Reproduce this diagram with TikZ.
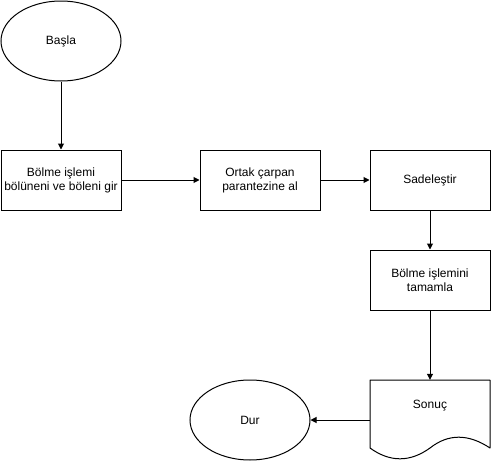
\documentclass[tikz,border=0pt]{standalone}
\usepackage{fontspec}
\setmainfont{Liberation Sans}
\usetikzlibrary{shapes.geometric,arrows.meta}
\begin{document}
\begin{tikzpicture}[x=1pt,y=-1pt,
  base/.style={draw=black,line width=1pt,font=\fontsize{12}{14}\selectfont,align=center,inner sep=0pt},
  procbox/.style={base,rectangle,minimum width=120pt,minimum height=60pt},
  term/.style={base,ellipse,minimum width=120pt,minimum height=80pt},
  conn/.style={draw=black,line width=1pt,-{Triangle[length=6pt,width=6pt]}},
  plaintext/.style={font=\fontsize{12}{14}\selectfont,align=center,inner sep=0pt}]
\useasboundingbox (0,0) rectangle (491,461);
\node[term] (basla) at (61,41) {Başla};
\node[procbox] (b1) at (61,180) {Bölme işlemi\\bölüneni ve böleni gir};
\node[procbox] (b2) at (260,180) {Ortak çarpan\\parantezine al};
\node[procbox] (b3) at (430,180) {Sadeleştir};
\node[procbox] (b4) at (430,280) {Bölme işlemini\\tamamla};
\node[inner sep=0pt,minimum width=120pt,minimum height=80pt] (sonuc) at (430,420) {};
\draw[line width=1pt,line join=round] (370,380) -- (490,380) -- (490,448)
  .. controls (468.3,433.6) and (448.3,433.6) .. (430,448)
  .. controls (410,462.4) and (390,462.4) .. (370,448) -- cycle;
\node[plaintext] (sonuctext) at (430,406) {Sonuç};
\node[term] (dur) at (250,420) {Dur};
\draw[conn] (basla) -- (b1);
\draw[conn] (b1) -- (b2);
\draw[conn] (b2) -- (b3);
\draw[conn] (b3) -- (b4);
\draw[conn] (b4) -- (sonuc.north);
\draw[conn] (sonuc.west) -- (dur.east);
\end{tikzpicture}
\end{document}
